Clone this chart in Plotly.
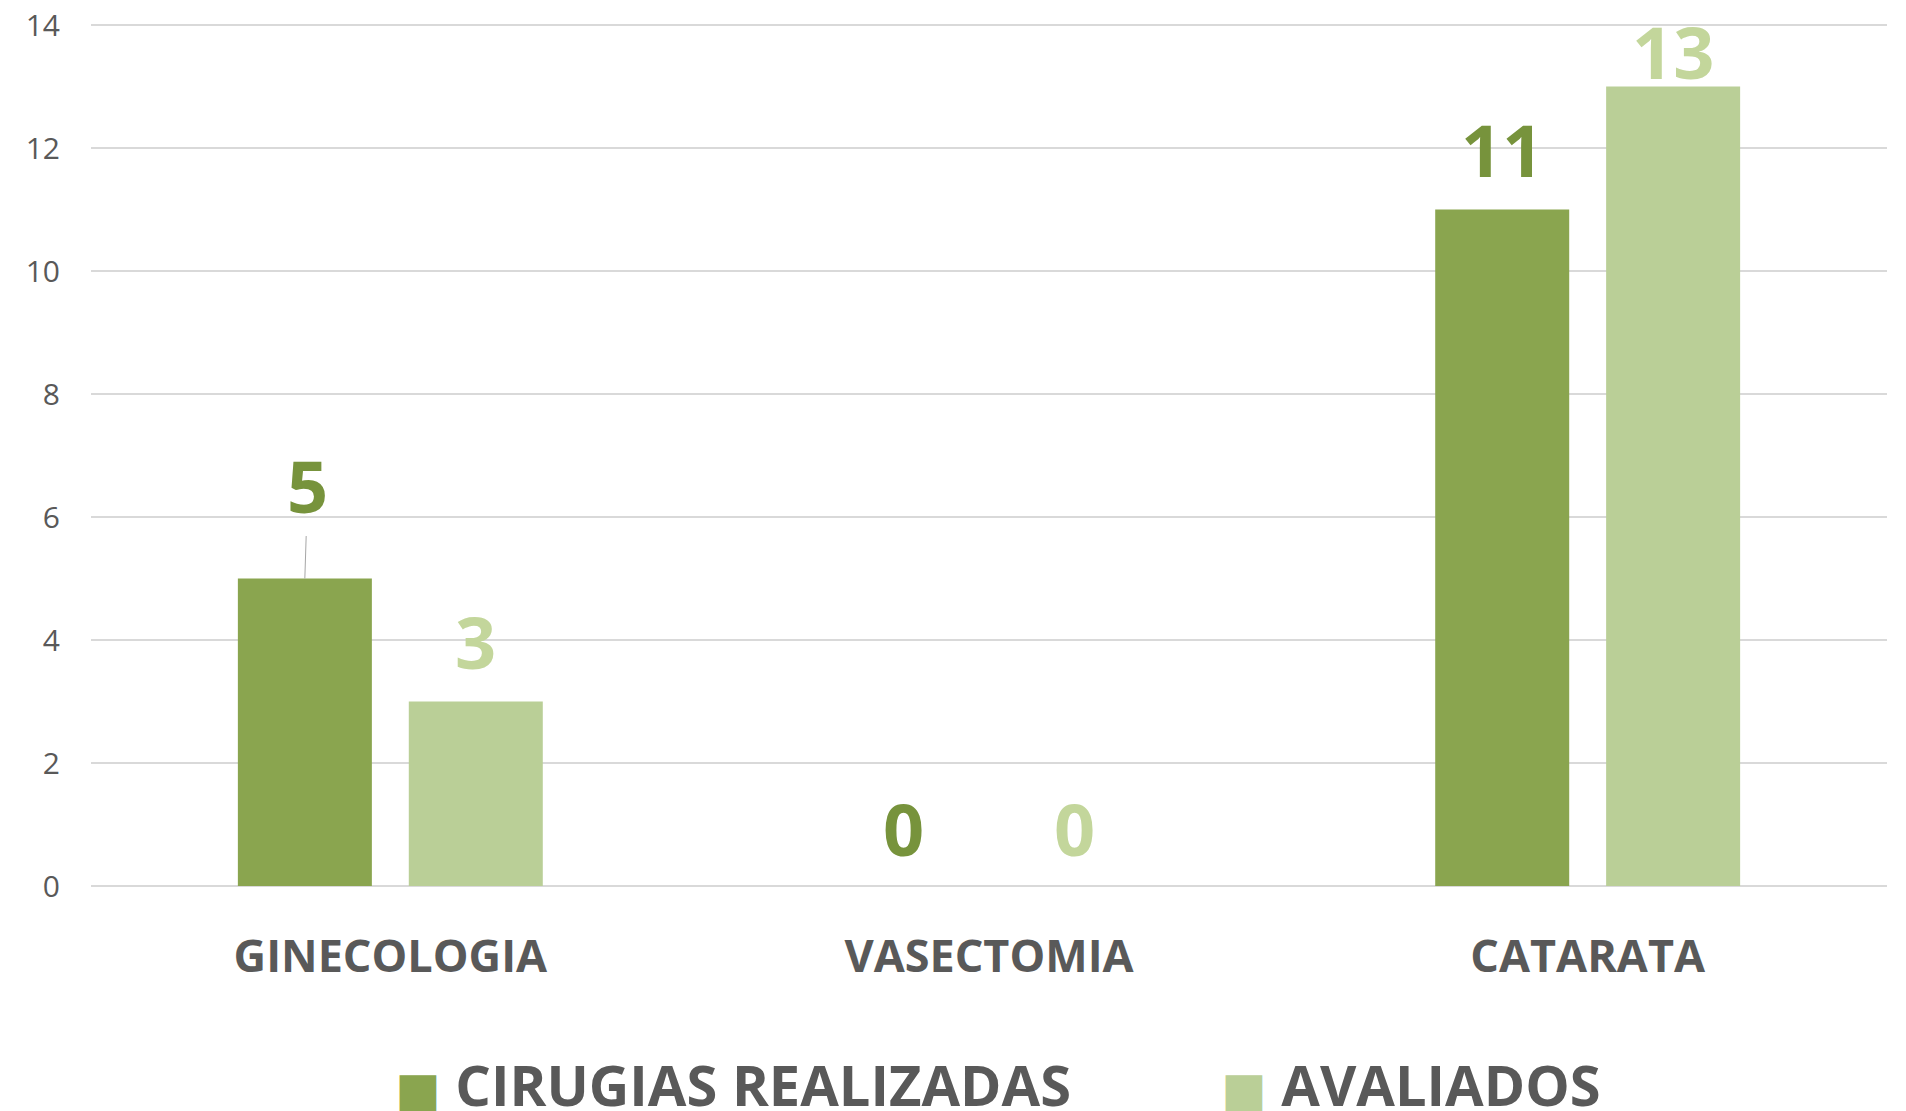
import plotly.graph_objects as go

categories = ["GINECOLOGIA", "VASECTOMIA", "CATARATA"]
series_names = ["CIRUGIAS REALIZADAS", "AVALIADOS"]
cirugias = [5, 0, 11]
avaliados = [3, 0, 13]
y_ticks = [0, 2, 4, 6, 8, 10, 12, 14]

bar_colors = ["#8AA54F", "#BACF97"]
label_colors = ["#77933C", "#C3D69B"]
FONT = "Open Sans"

fig = go.Figure()
for name, vals, col in zip(series_names, [cirugias, avaliados], bar_colors):
    fig.add_trace(go.Bar(x=categories, y=vals, name=name, marker=dict(color=col, line=dict(width=0)),
                         showlegend=False, hoverinfo="x+y"))
# legend entries: coloured square glyph + name (plotly caps legend marker size)
for name, col in zip(series_names, bar_colors):
    fig.add_trace(go.Scatter(
        x=[categories[0]], y=[None], mode="markers",
        name=f"<span style='color:{col};font-family:DejaVu Sans;font-size:48px'>■</span> {name}",
        marker=dict(size=1, color="rgba(0,0,0,0)")))

slot_px = 85.5
LABEL_SIZE = 72
for si, vals in enumerate([cirugias, avaliados]):
    xs = -slot_px if si == 0 else slot_px
    for ci, (cat, v) in enumerate(zip(categories, vals)):
        if si == 0 and ci == 0:
            fig.add_annotation(x=cat, y=v, xshift=xs, text=f"<b>{v}</b>", showarrow=True,
                               arrowhead=0, arrowwidth=1, arrowcolor="#A6A6A6", ax=3, ay=-94,
                               standoff=0, startstandoff=1,
                               font=dict(family=FONT, size=LABEL_SIZE, color=label_colors[si]))
        else:
            if si == 1 and ci == 2:
                ys = 36
            elif v == 0:
                ys = 58
            else:
                ys = 61
            fig.add_annotation(x=cat, y=v, xshift=xs, yshift=ys, text=f"<b>{v}</b>", showarrow=False,
                               yanchor="middle",
                               font=dict(family=FONT, size=LABEL_SIZE, color=label_colors[si]))

# the page body has an 8px margin; size the figure so it ends at the window edge.
# y range goes slightly past 14 so the top gridline is not clipped at the plot edge.
fig.update_layout(
    width=1898, height=1103,
    margin=dict(l=83, r=19, t=14, b=225, autoexpand=False),
    paper_bgcolor="white", plot_bgcolor="white",
    barmode="group", bargap=0.429, bargroupgap=0.216,
    font=dict(family=FONT, color="#595959"),
    legend=dict(orientation="h", xref="container", yref="container", x=0.183, xanchor="left",
                y=0.024, yanchor="middle", entrywidth=781, entrywidthmode="pixels",
                font=dict(family=FONT, size=56, color="#595959", weight="bold"),
                itemwidth=30, tracegroupgap=0, bgcolor="rgba(0,0,0,0)"),
    xaxis=dict(showgrid=False, showline=False, ticks="", ticklabelstandoff=40, automargin=False,
               tickfont=dict(family=FONT, size=45, color="#595959", weight="bold")),
    yaxis=dict(range=[0, 14.05], tickvals=y_ticks, showgrid=True, gridcolor="#D9D9D9", gridwidth=1.5,
               zeroline=True, zerolinecolor="#D9D9D9", zerolinewidth=1.5, automargin=False,
               showline=False, ticks="", ticklabelstandoff=30, ticklabeloverflow="allow",
               tickfont=dict(family=FONT, size=30, color="#595959")),
)
fig.write_html("out.html")
